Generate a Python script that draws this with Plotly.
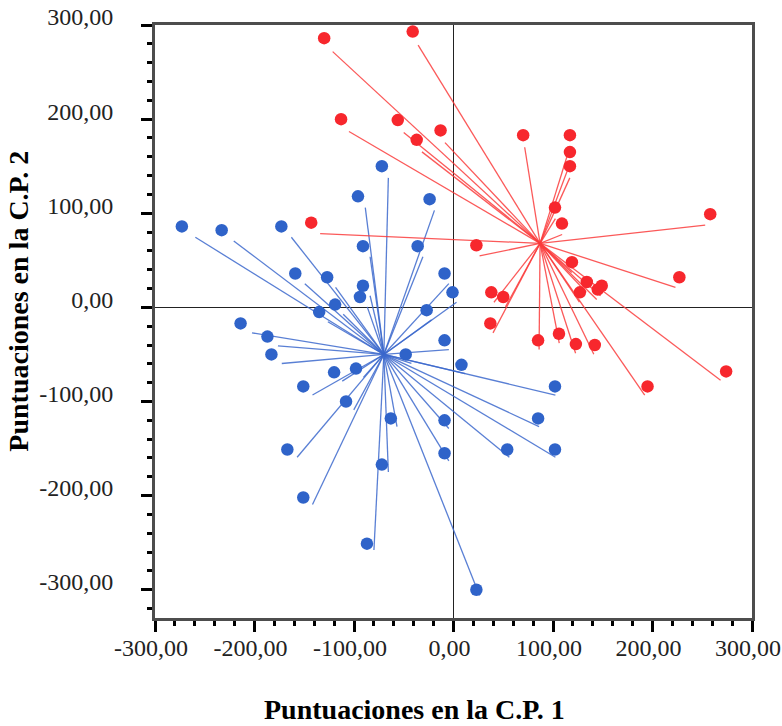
import plotly.graph_objects as go

# ---------------- data ----------------
blue_x = [-273, -233, -173, -72, -96, -24, -91, -36, -159, -127, -91, -94, -9, -1,
          -119, -135, -27, -214, -187, -183, -48, -9, 8, -120, -98, -151, -108, -63,
          -9, -167, -9, -72, -151, -87, 102, 85, 54, 102, 23]
blue_y = [86, 82, 86, 150, 118, 115, 65, 65, 36, 32, 23, 11, 36, 16,
          3, -5, -3, -17, -31, -50, -50, -35, -61, -69, -65, -84, -100, -118,
          -120, -151, -155, -167, -202, -251, -84, -118, -151, -151, -300]

red_x = [-130, -41, -113, -56, -13, -37, -143, 70, 117, 117, 117, 102, 109, 258,
         23, 119, 227, 134, 149, 145, 127, 38, 50, 37, 85, 106, 123, 142, 195, 274]
red_y = [286, 293, 200, 199, 188, 178, 90, 183, 183, 165, 150, 106, 89, 99,
         66, 48, 32, 27, 23, 19, 16, 16, 11, -17, -35, -28, -39, -40, -84, -68]

# group centroids (where the rays converge)
blue_centroid = (-70, -50)
red_centroid = (87, 68)

tick_vals = [-300, -200, -100, 0, 100, 200, 300]
tick_text = ["-300,00", "-200,00", "-100,00", "0,00", "100,00", "200,00", "300,00"]

x_title = "Puntuaciones en la C.P. 1"
y_title = "Puntuaciones en la C.P. 2"

# ---------------- styling ----------------
BLUE = "#2f63c9"
RED = "#f7272d"
BLUE_LINE = "rgba(60,105,205,0.85)"
RED_LINE = "rgba(250,60,60,0.85)"
# rays were drawn on a slightly mis-registered layer in the original
LINE_SCALE = (0.965, 0.986)
LINE_OFFSET = (4.0, -10.3)


def rays(xs, ys, c):
    lx, ly = [], []
    for x, y in zip(xs, ys):
        ex = LINE_OFFSET[0] + LINE_SCALE[0] * x
        ey = LINE_OFFSET[1] + LINE_SCALE[1] * y
        lx += [c[0], ex, None]
        ly += [c[1], ey, None]
    return lx, ly


fig = go.Figure()
bx, by = rays(blue_x, blue_y, blue_centroid)
rx, ry = rays(red_x, red_y, red_centroid)
fig.add_trace(go.Scatter(x=bx, y=by, mode="lines",
                         line=dict(color=BLUE_LINE, width=1.3), hoverinfo="skip"))
fig.add_trace(go.Scatter(x=rx, y=ry, mode="lines",
                         line=dict(color=RED_LINE, width=1.3), hoverinfo="skip"))
fig.add_trace(go.Scatter(x=blue_x, y=blue_y, mode="markers",
                         marker=dict(color=BLUE, size=12.5, line=dict(width=0))))
fig.add_trace(go.Scatter(x=red_x, y=red_y, mode="markers",
                         marker=dict(color=RED, size=12.5, line=dict(width=0))))

tickfont = dict(family="Liberation Serif", size=24, color="#222222")
common = dict(
    tickvals=tick_vals, ticktext=tick_text, tickfont=tickfont,
    ticks="outside", ticklen=11, tickwidth=3, tickcolor="black",
    showline=True, linecolor="#4d4d4d", linewidth=3, mirror=True,
    zeroline=True, zerolinecolor="#222222", zerolinewidth=1.3,
    showgrid=False, automargin=False,
    minor=dict(dtick=20, ticks="outside", ticklen=5, tickwidth=3, tickcolor="black"),
)

fig.update_layout(
    width=782, height=726,
    margin=dict(l=155, r=30, t=25, b=108),
    paper_bgcolor="white", plot_bgcolor="white",
    showlegend=False,
    xaxis=dict(range=[-300, 300], ticklabelstandoff=-5, ticklabelshift=-4, **common),
    yaxis=dict(range=[-330, 300], ticklabelstandoff=23, ticklabelshift=-8, **common),
    annotations=[
        dict(text="<b>" + x_title + "</b>", xref="paper", yref="paper",
             x=0.435, y=-0.155, xanchor="center", yanchor="middle", showarrow=False,
             font=dict(family="Liberation Serif", size=28, color="black")),
        dict(text="<b>" + y_title + "</b>", xref="paper", yref="paper",
             x=-0.228, y=0.535, xanchor="center", yanchor="middle", showarrow=False,
             textangle=-90,
             font=dict(family="Liberation Serif", size=28, color="black")),
    ],
)

fig.write_html("out.html")
